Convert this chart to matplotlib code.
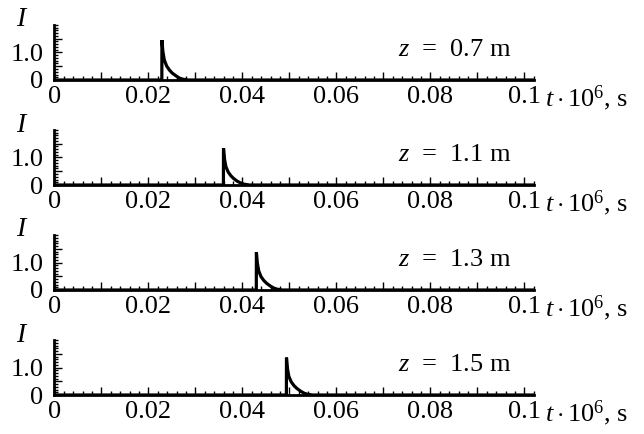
import matplotlib
matplotlib.use("Agg")
import matplotlib.pyplot as plt
from matplotlib.ticker import MultipleLocator, FixedLocator, FuncFormatter

plt.rcParams['font.family'] = ['Liberation Serif', 'DejaVu Serif']
plt.rcParams['mathtext.fontset'] = 'custom'
plt.rcParams['mathtext.rm'] = 'Liberation Serif'
plt.rcParams['mathtext.it'] = 'Liberation Serif:italic'

# ---- data ----
z_labels = ["0.7", "1.1", "1.3", "1.5"]

t_z07 = [0.0, 0.02288, 0.0229, 0.0231, 0.0234, 0.0239, 0.0245, 0.0251, 0.0259, 0.0266, 0.0273, 0.0284, 0.102]
I_z07 = [0.0, 0.0, 1.45, 1.04, 0.73, 0.51, 0.36, 0.25, 0.15, 0.07, 0.03, 0.0, 0.0]

t_z11 = [0.0, 0.03598, 0.0360, 0.0362, 0.0365, 0.0370, 0.0376, 0.0382, 0.0390, 0.0397, 0.0404, 0.0415, 0.102]
I_z11 = [0.0, 0.0, 1.34, 0.96, 0.67, 0.47, 0.33, 0.23, 0.13, 0.07, 0.03, 0.0, 0.0]

t_z13 = [0.0, 0.04298, 0.0430, 0.0432, 0.0435, 0.0440, 0.0446, 0.0452, 0.0460, 0.0467, 0.0474, 0.0485, 0.102]
I_z13 = [0.0, 0.0, 1.37, 0.98, 0.69, 0.48, 0.34, 0.24, 0.14, 0.07, 0.03, 0.0, 0.0]

t_z15 = [0.0, 0.04938, 0.0494, 0.0496, 0.0499, 0.0504, 0.0510, 0.0516, 0.0524, 0.0531, 0.0538, 0.0549, 0.102]
I_z15 = [0.0, 0.0, 1.36, 0.97, 0.68, 0.48, 0.34, 0.24, 0.14, 0.07, 0.03, 0.0, 0.0]

series_t = [t_z07, t_z11, t_z13, t_z15]
series_I = [I_z07, I_z11, I_z13, I_z15]

x_tick_labels = {0.0: "0", 0.02: "0.02", 0.04: "0.04", 0.06: "0.06", 0.08: "0.08", 0.1: "0.1"}
y_tick_labels = {0.0: "0", 1.0: "1.0"}

# ---- layout ----
W, H = 644, 434
fig = plt.figure(figsize=(W / 100, H / 100), dpi=100)

baselines = [80, 185, 290, 395]
x0_px = 54.3
px_per_unit_x = 4700.0
xmax = 0.102
ymax = 2.0
ax_h_px = 55.0
fs = 19

def xfmt(v, pos):
    for k, s in x_tick_labels.items():
        if abs(v - k) < 1e-9:
            return s
    return ""

def yfmt(v, pos):
    for k, s in y_tick_labels.items():
        if abs(v - k) < 1e-9:
            return s
    return ""

for i in range(4):
    b = baselines[i]
    ax_w_px = xmax * px_per_unit_x
    ax = fig.add_axes([x0_px / W, (H - b) / H, ax_w_px / W, ax_h_px / H])
    ax.plot(series_t[i], series_I[i], color='black', lw=2.3, solid_joinstyle='miter')
    ax.set_xlim(0, xmax)
    ax.set_ylim(0, ymax)
    for s in ['top', 'right']:
        ax.spines[s].set_visible(False)
    for s in ['left', 'bottom']:
        ax.spines[s].set_linewidth(2.0)
        ax.spines[s].set_color('black')
    ax.patch.set_visible(False)

    ax.xaxis.set_major_locator(MultipleLocator(0.01))
    ax.xaxis.set_minor_locator(MultipleLocator(0.002))
    ax.xaxis.set_major_formatter(FuncFormatter(xfmt))
    ax.yaxis.set_major_locator(FixedLocator([0.0, 0.5, 1.0, 1.5]))
    ax.yaxis.set_minor_locator(MultipleLocator(0.1))
    ax.yaxis.set_major_formatter(FuncFormatter(yfmt))

    ax.tick_params(axis='x', which='major', direction='in', length=5.5, width=1.0, pad=4, labelsize=fs)
    ax.tick_params(axis='x', which='minor', direction='in', length=3.0, width=1.0)
    ax.tick_params(axis='y', which='major', direction='in', length=5.5, width=1.0, pad=8, labelsize=fs)
    ax.tick_params(axis='y', which='minor', direction='in', length=3.0, width=1.0)

    fig.text(398 / W, (H - (b - 30)) / H, r"$z$  =  " + z_labels[i] + " m",
             fontsize=fs, ha='left', va='center')
    fig.text(22 / W, (H - (b - 60)) / H, r"$I$", fontsize=fs + 1, ha='center', va='center')
    fig.text(545 / W, (H - (b + 18)) / H, r"$t\cdot$10$^6$, s", fontsize=fs, ha='left', va='center')

fig.savefig("out.png", dpi=100)
